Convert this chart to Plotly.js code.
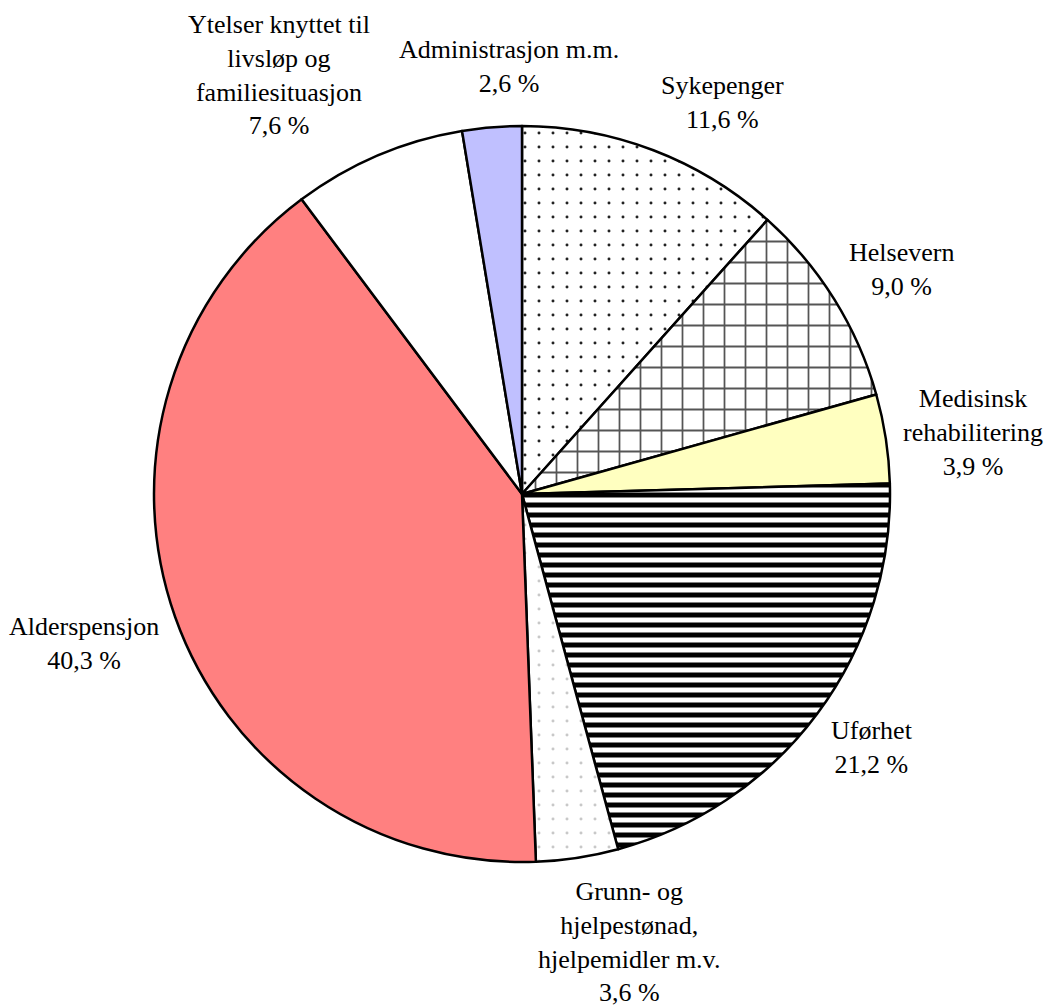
<!DOCTYPE html>
<html>
<head>
<meta charset="utf-8">
<script src="https://cdn.plot.ly/plotly-3.0.1.min.js"></script>
<style>
  html, body { margin: 0; padding: 0; background: #ffffff; }
  #chart { width: 1047px; height: 1008px; }
</style>
</head>
<body>
<div id="chart"></div>
<script>
// data
const categories = [
    'Sykepenger',
    'Helsevern',
    'Medisinsk<br>rehabilitering',
    'Uførhet',
    'Grunn- og<br>hjelpestønad,<br>hjelpemidler m.v.',
    'Alderspensjon',
    'Ytelser knyttet til<br>livsløp og<br>familiesituasjon',
    'Administrasjon m.m.'
];
const shares = [11.6, 9.0, 3.9, 21.2, 3.6, 40.3, 7.6, 2.6];

// fills
const sliceColors = ['#ffffff', '#ffffff', '#ffffc0', '#ffffff', '#ffffff', '#ff8080', '#ffffff', '#c0c0ff'];
const patShape    = ['.', '+', '', '-', '.', '', '', ''];
const patFg       = ['#222222', '#555555', '#000000', '#000000', '#c8c8c8', '#000000', '#000000', '#000000'];
const patSize     = [14, 21, 8, 10, 14, 8, 8, 8];
const patSolid    = [0.035, 0.16, 0.3, 0.5, 0.035, 0.3, 0.3, 0.3];

// label placement (px)
const W = 1047, H = 1008;
const cxPx = 522, cyPx = 494, R = 368, gap = 15;
const nudgeX = [0, 0, 0, 0, 49, 0, 0, 18];
const nudgeY = [0, 12, -4, -8, 2, -12, 0, -12];

const domX = [(cxPx - R) / W, (cxPx + R) / W];
const domY = [(H - cyPx - R) / H, (H - cyPx + R) / H];
const cx = (domX[0] + domX[1]) / 2;
const cy = (domY[0] + domY[1]) / 2;

// labels sit just outside each slice, along its middle angle
const total = shares.reduce((a, b) => a + b, 0);
let cum = 0;
const annotations = [];
for (let i = 0; i < shares.length; i++) {
    const mid = (cum + shares[i] / 2) / total * 2 * Math.PI;
    cum += shares[i];
    const s = Math.sin(mid), c = Math.cos(mid);
    annotations.push({
        xref: 'paper', yref: 'paper',
        x: cx, y: cy,
        xshift: (R + gap) * s + nudgeX[i],
        yshift: (R + gap) * c - nudgeY[i],
        xanchor: s > 0.3 ? 'left' : (s < -0.3 ? 'right' : 'center'),
        yanchor: c > 0.3 ? 'bottom' : (c < -0.3 ? 'top' : 'middle'),
        text: categories[i] + '<br>' + shares[i].toFixed(1).replace('.', ',') + ' %',
        showarrow: false,
        align: 'center',
        font: {family: 'Liberation Serif', size: 26, color: '#000000'}
    });
}

var trace = {
    type: 'pie',
    labels: categories,
    values: shares,
    sort: false,
    direction: 'clockwise',
    rotation: 0,
    textinfo: 'none',
    hoverinfo: 'label+percent',
    domain: {x: domX, y: domY},
    marker: {
        colors: sliceColors,
        line: {color: '#000000', width: 2.5},
        pattern: {
            shape: patShape,
            fgcolor: patFg,
            bgcolor: sliceColors,
            size: patSize,
            solidity: patSolid,
            fgopacity: 1,
            fillmode: 'replace'
        }
    }
};

var layout = {
    width: W,
    height: H,
    showlegend: false,
    margin: {l: 0, r: 0, t: 0, b: 0, pad: 0},
    paper_bgcolor: '#ffffff',
    plot_bgcolor: '#ffffff',
    annotations: annotations
};

Plotly.newPlot('chart', [trace], layout, {displayModeBar: false, staticPlot: true});
</script>
</body>
</html>
